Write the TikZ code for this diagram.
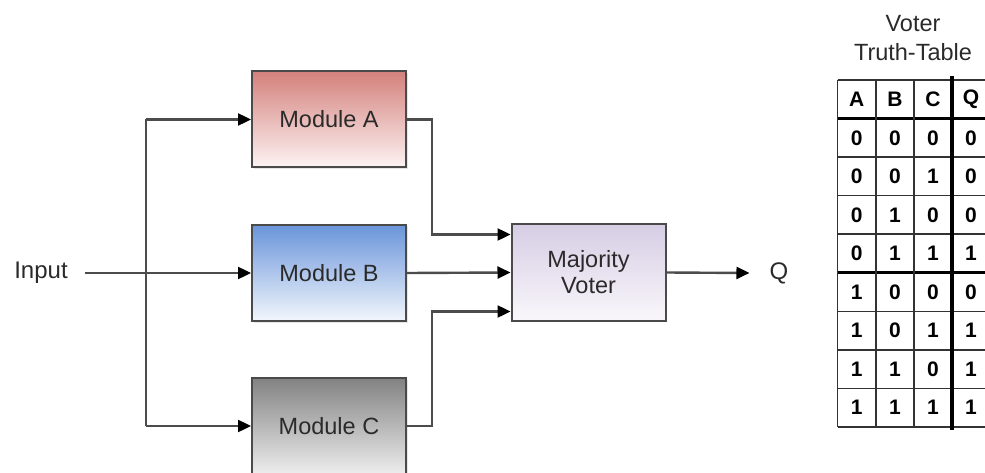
\documentclass[tikz,border=0pt]{standalone}
\usepackage{fontspec}
\setmainfont{Liberation Sans}
\usetikzlibrary{arrows.meta,shadows,calc}

\definecolor{edge}{HTML}{4A4A4A}
\definecolor{wire}{HTML}{4C4C4C}
\definecolor{ink}{HTML}{2A2A2A}
\definecolor{redtop}{HTML}{D4817C}
\definecolor{redbot}{HTML}{FCF3F3}
\definecolor{bluetop}{HTML}{6A95DA}
\definecolor{bluebot}{HTML}{F2F6FC}
\definecolor{graytop}{HTML}{828282}
\definecolor{graybot}{HTML}{EDEDED}
\definecolor{lilactop}{HTML}{D6CDE4}
\definecolor{lilacbot}{HTML}{F9F7FB}

\tikzset{
  block/.style={draw=edge, line width=2pt, minimum width=154pt, minimum height=96pt,
    font=\fontsize{23.5}{28}\selectfont, text=ink, align=center,
    drop shadow={opacity=0.2, shadow xshift=1.5pt, shadow yshift=-1.5pt}},
  label/.style={font=\fontsize{24}{28}\selectfont, text=ink, inner sep=0pt},
  wireline/.style={draw=wire, line width=2.4pt},
  arr/.style={wireline, -{Triangle[length=13pt,width=12pt]}, arrows={[color=black]}},
  cell/.style={font=\bfseries\fontsize{21}{21}\selectfont, text=black, inner sep=0pt},
  thin/.style={draw=black!80, line width=1.6pt},
  thick/.style={draw=black, line width=3.2pt},
}

\begin{document}
\begin{tikzpicture}[x=1pt, y=-1pt]
\useasboundingbox (0,0) rectangle (985,473);

% processing blocks
\node[block, top color=redtop, bottom color=redbot]     (modA)  at (329,119.5) {Module A};
\node[block, top color=bluetop, bottom color=bluebot]   (modB)  at (329,273)   {Module B};
\node[block, top color=graytop, bottom color=graybot]   (modC)  at (329,426)   {Module C};
\node[block, top color=lilactop, bottom color=lilacbot] (voter) at (588.5,272.5) {Majority\\[-2pt]Voter};

% terminals
\node[label] (input) at (41,273) {Input};
\node[label] (q)     at (779,273) {Q};

% routing points
\coordinate (split) at (146,273);
\coordinate (jog)   at (432,273);
\coordinate (vin1)  at ($(voter.west)+(0,-38)$);
\coordinate (vin2)  at (voter.west);
\coordinate (vin3)  at ($(voter.west)+(0,39)$);

% fan-out from the input
\draw[wireline] (split |- modA.west) -- (split |- modC.west);
\draw[arr] ([xshift=17pt]input.east) -- (modB.west);
\draw[arr] (split |- modA.west) -- (modA.west);
\draw[arr] (split |- modC.west) -- (modC.west);

% module outputs into the voter
\draw[arr] (modA.east) -- (modA.east -| jog) |- (vin1);
\draw[arr] (modB.east) -- (vin2);
\draw[arr] (modC.east) -- (modC.east -| jog) |- (vin3);

% voter output
\draw[arr] (voter.east) -- ([xshift=-20pt]q.west);

% truth table
\node[label, align=center, font=\fontsize{23.5}{29}\selectfont] (title) at (913,38) {Voter\\Truth-Table};

\pgfmathsetmacro{\rowh}{(427-80)/9}
% horizontal rules
\foreach \k in {0,2,3,4,6,7,8,9}{
  \draw[thin] (837.5,{80+\k*\rowh}) -- (990,{80+\k*\rowh});
}
\draw[thick] (837.5,{80+\rowh}) -- (990,{80+\rowh});
\draw[thick] (837.5,{80+5*\rowh}) -- (990,{80+5*\rowh});
% vertical rules
\foreach \x in {837.5,876,914}{
  \draw[thin] (\x,80) -- (\x,427);
}
\draw[thick] (952,76) -- (952,430);

% cell entries
\foreach \t/\cx [count=\c] in {A/856.75,B/895,C/933,Q/971}{
  \node[cell] (head-\c) at (\cx,{80+0.5*\rowh}) {\t};
}
\foreach \a/\b/\c/\q [count=\r] in {0/0/0/0,0/0/1/0,0/1/0/0,0/1/1/1,1/0/0/0,1/0/1/1,1/1/0/1,1/1/1/1}{
  \node[cell] (cell-\r-a) at (856.75,{80+(\r+0.5)*\rowh}) {\a};
  \node[cell] (cell-\r-b) at (895,{80+(\r+0.5)*\rowh}) {\b};
  \node[cell] (cell-\r-c) at (933,{80+(\r+0.5)*\rowh}) {\c};
  \node[cell] (cell-\r-q) at (971,{80+(\r+0.5)*\rowh}) {\q};
}
\end{tikzpicture}
\end{document}
